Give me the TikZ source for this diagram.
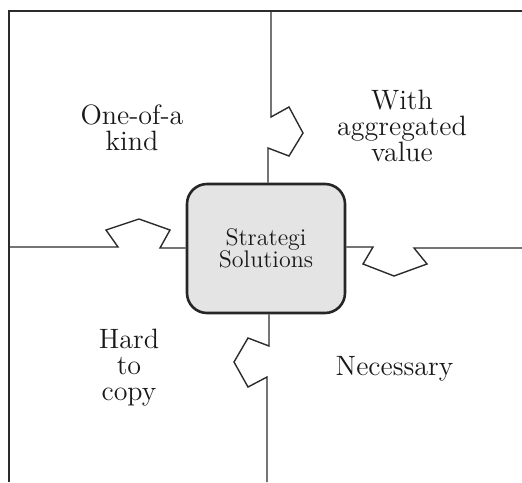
\documentclass[tikz,border=0pt]{standalone}
\usetikzlibrary{positioning}
\definecolor{linegray}{HTML}{2B2B2B}
\definecolor{boxfill}{HTML}{E4E4E4}
\begin{document}
\begin{tikzpicture}[x=0.5pt,y=-0.5pt,
  edge/.style={draw=linegray,line width=0.7pt,line join=miter},
  label/.style={inner sep=0pt,align=center,font=\fontsize{14}{13}\selectfont,text=black!90},
  hub/.style={draw=black!85,line width=1.3pt,fill=boxfill,rounded corners=10pt,
    minimum width=79pt,minimum height=64.5pt,inner sep=0pt,align=center,
    font=\fontsize{12}{11}\selectfont,text=black!90}]
\useasboundingbox (0,0) rectangle (522,482);
% frame
\coordinate (tr) at (522,11);
\coordinate (tl) at (9,11);
\coordinate (bl) at (9,482);
\draw[edge] (tr) -- (tl) -- (bl);
% hub
\node[hub] (box) at (266,248.5) {Strategi\\Solutions};
% top connector
\coordinate (tstart) at (271,11);
\draw[edge] (tstart) -- (271,117) -- (289,107) -- (303,133) -- (289,156) -- (268,148) -- (268,0 |- box.north);
% left connector
\coordinate (lstart) at (9,247);
\draw[edge] (lstart) -- (118,247) -- (106,230) -- (139,219) -- (170,230) -- (160,248) -- (0,248 -| box.west);
% right connector
\coordinate (rend) at (522,248);
\draw[edge] (0,247 -| box.east) -- (373,247) -- (363,264) -- (394,276) -- (427,264) -- (414,248) -- (rend);
% bottom connector
\coordinate (bend) at (267,482);
\draw[edge] (269,0 |- box.south) -- (269,346) -- (248,338) -- (234,362) -- (248,387) -- (267,377) -- (bend);
% labels
\node[label] (one) at (132,127.5) {One-of-a\\kind};
\node[label] (with) at (402,125.5) {With\\aggregated\\value};
\node[label] (hard) at (129,368) {Hard\\to\\copy};
\node[label,anchor=base] (nec) at (394.5,375) {Necessary};
\end{tikzpicture}
\end{document}
